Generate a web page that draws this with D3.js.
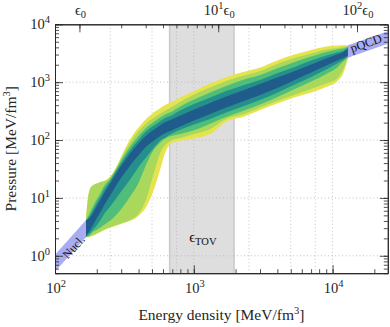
<!DOCTYPE html>
<html>
<head>
<meta charset="utf-8">
<script src="https://cdn.jsdelivr.net/npm/d3@7"></script>
<style>
body { margin: 0; background: #fff; }
svg { display: block; font-family: "Liberation Serif", "DejaVu Serif", serif; }
</style>
</head>
<body>
<div id="content"></div>
<script>
// energy density grid [MeV/fm^3] shared by all band edges
var epsGrid = [167, 173, 179, 188, 198, 211, 229, 249, 275, 309, 347, 397, 453, 509, 572, 631, 686, 797, 1005, 1311, 1710, 2305, 3006, 3987, 5286, 7011, 8993, 10790, 11920, 12960];

// pressure [MeV/fm^3], upper / lower edge of each credible band
var yellowHi = [4.08, 10.1, 14.4, 16.6, 17.6, 18.7, 19.8, 23.3, 33.3, 60.5, 102, 161, 230, 292, 356, 410, 449, 542, 707, 946, 1216, 1513, 1789, 2364, 3002, 3593, 4130, 4297, 4332, 4300];
var yellowLo = [2.11, 2.10, 2.13, 2.22, 2.36, 2.55, 2.82, 3.05, 3.30, 3.65, 4.03, 4.83, 6.90, 12.8, 30.8, 65.6, 88.4, 97.6, 106, 127, 208, 254, 329, 426, 542, 661, 823, 1024, 1409, 2700];
var limeHi = [4.08, 10.1, 14.4, 16.6, 17.6, 18.7, 19.8, 22.8, 32.7, 55.9, 90.2, 140, 192, 239, 286, 329, 364, 453, 610, 806, 1045, 1301, 1556, 2056, 2612, 3125, 3664, 3890, 4049, 4250];
var limeLo = [2.11, 2.13, 2.18, 2.26, 2.40, 2.60, 2.87, 3.11, 3.37, 3.72, 4.11, 5.22, 9.31, 24.2, 59.4, 85.0, 97.6, 108, 127, 154, 230, 281, 364, 471, 598, 760, 946, 1154, 1652, 2720];
var greenHi = [4.08, 4.83, 5.66, 7.19, 9.12, 11.8, 16.9, 21.1, 30.8, 50.6, 76.9, 115, 161, 200, 244, 281, 304, 378, 500, 661, 856, 1109, 1327, 1740, 2210, 2773, 3318, 3664, 3813, 4150];
var greenLo = [2.11, 2.15, 2.29, 2.60, 2.76, 3.05, 3.51, 4.03, 5.02, 7.04, 10.5, 17.6, 37.5, 65.6, 90.2, 108, 117, 127, 148, 192, 249, 323, 410, 548, 754, 1024, 1381, 1789, 2272, 2750];
var tealHi = [4.08, 4.45, 5.02, 6.25, 7.94, 10.3, 14.7, 19.5, 29.0, 44.9, 66.9, 99.6, 140, 174, 212, 244, 264, 323, 418, 542, 702, 891, 1087, 1426, 1810, 2364, 2885, 3252, 3452, 4000];
var tealLo = [2.11, 2.31, 2.45, 2.82, 3.24, 4.03, 5.54, 7.04, 9.69, 14.2, 20.6, 33.3, 50.6, 71.0, 97.6, 112, 127, 151, 185, 230, 298, 386, 490, 656, 902, 1225, 1652, 2098, 2413, 2800];
var blueHi = [4.08, 4.28, 4.64, 5.54, 6.90, 8.94, 12.8, 17.6, 26.2, 39.8, 58.2, 86.6, 119, 148, 181, 208, 225, 264, 336, 435, 564, 730, 927, 1201, 1544, 2016, 2561, 3002, 3318, 3800];
var blueLo = [2.11, 2.45, 2.76, 3.44, 4.28, 5.54, 7.94, 10.9, 16.3, 24.7, 36.1, 53.7, 76.9, 95.7, 117, 134, 145, 171, 217, 281, 364, 471, 598, 791, 1079, 1466, 1938, 2364, 2612, 2900];

// nuclear theory and pQCD limits
var nuclEps = [100, 167];
var nuclLo = [0.535, 2.1];
var nuclHi = [1.04, 4.1];
var pqcdEps = [12900, 25000];
var pqcdLo = [2640, 4600];
var pqcdHi = [4350, 7600];

var eps0 = 150;
var tovRange = [670, 1950];
var xGrid = [250, 500, 750, 1000, 2500, 5000, 7500, 10000];
var yGrid = [1, 10, 100, 1000];
var xMajor = [100, 1000, 10000];
var yMajor = [1, 10, 100, 1000, 10000];
var topMajor = [1, 10, 100];

var width = 390, height = 327;
var padL = 55, padR = 387.8, padT = 24.3, padB = 273.2;
var ink = "#262626";

var x = d3.scaleLog().domain([100, 25000]).range([padL, padR]);
var y = d3.scaleLog().domain([0.5, 10000]).range([padB, padT]);

var svg = d3.select("#content").append("svg")
	.attr("width", width).attr("height", height);

svg.append("clipPath").attr("id", "plotClip")
	.append("rect").attr("x", padL).attr("y", padT)
	.attr("width", padR - padL).attr("height", padB - padT);

var plot = svg.append("g").attr("clip-path", "url(#plotClip)");

// TOV region
plot.append("rect")
	.attr("x", x(tovRange[0])).attr("y", padT)
	.attr("width", x(tovRange[1]) - x(tovRange[0])).attr("height", padB - padT)
	.attr("fill", "#dedede");
plot.selectAll("line.tov").data(tovRange).enter()
	.append("line").attr("class", "tov")
	.attr("x1", function (d) { return x(d); }).attr("x2", function (d) { return x(d); })
	.attr("y1", padT).attr("y2", padB)
	.attr("stroke", "#c9c9c9").attr("stroke-width", 1.5);

// dotted grid
plot.selectAll("line.gx").data(xGrid).enter()
	.append("line").attr("class", "gx")
	.attr("x1", function (d) { return x(d); }).attr("x2", function (d) { return x(d); })
	.attr("y1", padT).attr("y2", padB);
plot.selectAll("line.gy").data(yGrid).enter()
	.append("line").attr("class", "gy")
	.attr("x1", padL).attr("x2", padR)
	.attr("y1", function (d) { return y(d); }).attr("y2", function (d) { return y(d); });
plot.selectAll("line.gx, line.gy")
	.attr("stroke", "#b4b4b4").attr("stroke-width", 0.8)
	.attr("stroke-dasharray", "1,2.5");

var area = d3.area()
	.x(function (d) { return x(d[0]); })
	.y0(function (d) { return y(d[1]); })
	.y1(function (d) { return y(d[2]); })
	.curve(d3.curveMonotoneX);

var rows = function (xs, lo, hi) {
	return xs.map(function (e, i) { return [e, lo[i], hi[i]]; });
};

var bands = [
	{ lo: yellowLo, hi: yellowHi, color: "#e6e44e" },
	{ lo: limeLo, hi: limeHi, color: "#a9d85c" },
	{ lo: greenLo, hi: greenHi, color: "#4fbe7a" },
	{ lo: tealLo, hi: tealHi, color: "#25908b" },
	{ lo: blueLo, hi: blueHi, color: "#1f5b8b" }
];

plot.selectAll("path.band").data(bands).enter()
	.append("path").attr("class", "band")
	.attr("d", function (b) { return area(rows(epsGrid, b.lo, b.hi)); })
	.attr("fill", function (b) { return b.color; });

var limitArea = d3.area()
	.x(function (d) { return x(d[0]); })
	.y0(function (d) { return y(d[1]); })
	.y1(function (d) { return y(d[2]); });

plot.append("path").attr("d", limitArea(rows(nuclEps, nuclLo, nuclHi))).attr("fill", "#a9acf3");
plot.append("path").attr("d", limitArea(rows(pqcdEps, pqcdLo, pqcdHi))).attr("fill", "#a9acf3");

var angle = function (xs, ps) {
	var dx = x(xs[1]) - x(xs[0]);
	var dy = y(ps[1]) - y(ps[0]);
	return Math.atan2(dy, dx) * 180 / Math.PI;
};

svg.append("text")
	.attr("transform", "translate(" + x(136) + "," + y(1.42) + ") rotate(" + angle(nuclEps, nuclLo) + ")")
	.attr("text-anchor", "middle").attr("dy", "0.35em")
	.attr("font-size", 12).attr("fill", "#111")
	.text("Nucl.");

svg.append("text")
	.attr("transform", "translate(" + x(17400) + "," + y(4750) + ") rotate(" + angle(pqcdEps, pqcdLo) + ")")
	.attr("text-anchor", "middle").attr("dy", "0.35em")
	.attr("font-size", 12.5).attr("fill", "#111")
	.text("pQCD");

var tov = svg.append("text")
	.attr("x", (x(tovRange[0]) + x(tovRange[1])) / 2 + 1).attr("y", 241.5)
	.attr("text-anchor", "middle").attr("fill", "#111").attr("font-size", 14.5);
tov.append("tspan").text("\u03f5");
tov.append("tspan").attr("dy", 3.5).attr("font-size", 10.5).text("TOV");

// axes, ticks pointing inward
var styleAxis = function (g) {
	g.select(".domain").attr("stroke", ink).attr("stroke-width", 1);
	g.selectAll(".tick line").attr("stroke", ink).attr("stroke-width", 0.8);
	g.selectAll(".tick text").remove();
};

var topTicks = [];
[1, 10, 100].forEach(function (m) {
	for (var k = 1; k < 10; k++) {
		if (k * m * eps0 <= 25000) topTicks.push(k * m * eps0);
	}
});

var axes = [
	{ ax: d3.axisBottom(x), at: "translate(0," + padB + ")", minor: x.ticks(), major: xMajor },
	{ ax: d3.axisTop(x), at: "translate(0," + padT + ")", minor: topTicks, major: topMajor.map(function (m) { return m * eps0; }) },
	{ ax: d3.axisLeft(y), at: "translate(" + padL + ",0)", minor: y.ticks(), major: yMajor },
	{ ax: d3.axisRight(y), at: "translate(" + padR + ",0)", minor: y.ticks(), major: yMajor }
];

axes.forEach(function (a) {
	svg.append("g").attr("transform", a.at)
		.call(a.ax.tickValues(a.minor).tickSize(-4).tickSizeOuter(0).tickFormat(""))
		.call(styleAxis);
	svg.append("g").attr("transform", a.at)
		.call(a.ax.tickValues(a.major).tickSize(-8).tickSizeOuter(0).tickFormat(""))
		.call(styleAxis);
});

var power = function (t, exp) {
	t.append("tspan").text("10");
	t.append("tspan").attr("dy", -6).attr("font-size", 10.5).text(exp);
};

svg.selectAll("text.xl").data(xMajor).enter()
	.append("text").attr("class", "xl")
	.attr("x", function (d) { return x(d) + 1; }).attr("y", 293)
	.attr("text-anchor", "middle").attr("font-size", 14.5).attr("fill", ink)
	.each(function (d) { power(d3.select(this), Math.round(Math.log10(d))); });

svg.selectAll("text.yl").data(yMajor).enter()
	.append("text").attr("class", "yl")
	.attr("x", 50).attr("y", function (d) { return y(d) + 5; })
	.attr("text-anchor", "end").attr("font-size", 14.5).attr("fill", ink)
	.each(function (d) { power(d3.select(this), Math.round(Math.log10(d))); });

svg.selectAll("text.tl").data(topMajor).enter()
	.append("text").attr("class", "tl")
	.attr("x", function (d) { return x(d * eps0) + 1; }).attr("y", 15)
	.attr("text-anchor", "middle").attr("font-size", 14.5).attr("fill", ink)
	.each(function (d) {
		var t = d3.select(this);
		if (d > 1) {
			power(t, Math.round(Math.log10(d)));
			t.append("tspan").attr("dy", 6).attr("font-size", 14.5).text("\u03f5");
		}
		else {
			t.append("tspan").text("\u03f5");
		}
		t.append("tspan").attr("dy", 3).attr("font-size", 10.5).text("0");
	});

var unitLabel = function (t, name) {
	t.append("tspan").text(name + " [MeV/fm");
	t.append("tspan").attr("dy", -6).attr("font-size", 10.5).text("3");
	t.append("tspan").attr("dy", 6).text("]");
};

svg.append("text")
	.attr("x", (padL + padR) / 2).attr("y", 320)
	.attr("text-anchor", "middle").attr("font-size", 15.5).attr("fill", ink)
	.call(unitLabel, "Energy density");

svg.append("text")
	.attr("transform", "translate(16," + (padT + padB) / 2 + ") rotate(-90)")
	.attr("text-anchor", "middle").attr("font-size", 15.5).attr("fill", ink)
	.call(unitLabel, "Pressure");
</script>
</body>
</html>
